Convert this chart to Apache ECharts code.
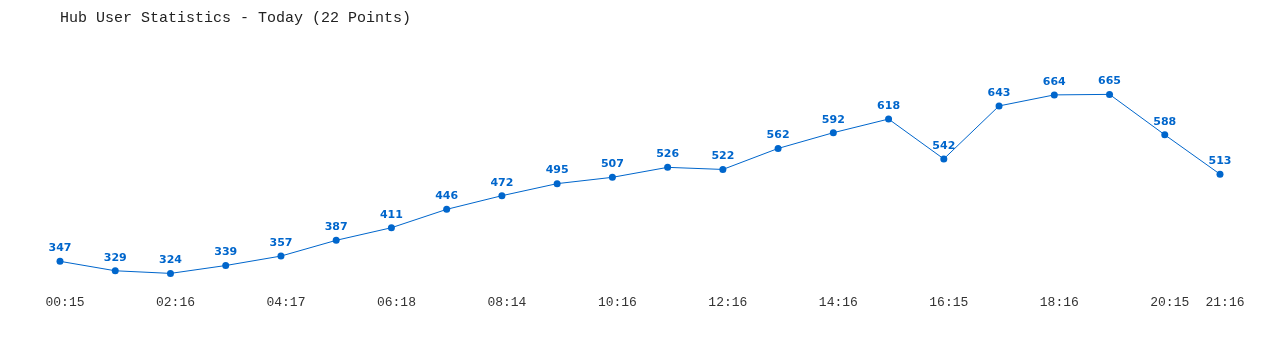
<!DOCTYPE html>
<html><head><meta charset="utf-8">
<script src="https://cdn.jsdelivr.net/npm/echarts@6/dist/echarts.min.js"></script>
<style>html,body{margin:0;padding:0;background:#fff}#c{width:1280px;height:350px}</style>
</head><body><div id="c"></div>
<script>
const categories = ["00:15","01:16","02:16","03:16","04:17","05:17","06:18","07:14","08:14","09:15","10:16","11:16","12:16","13:16","14:16","15:16","16:15","17:16","18:16","19:16","20:15","21:16"];
const users = [347,329,324,339,357,387,411,446,472,495,507,526,522,562,592,618,542,643,664,665,588,513];
const labelIndices = [0,2,4,6,8,10,12,14,16,18,20,21];

const chart = echarts.init(document.getElementById('c'), null, {renderer:'canvas'});
chart.setOption({
  animation:false,
  backgroundColor:'#ffffff',
  title:{
    text:'Hub User Statistics - Today (22 Points)',
    left:55, top:6,
    textStyle:{fontFamily:'Liberation Mono', fontSize:15, fontWeight:'normal', color:'#222'}
  },
  grid:{left:60, right:60, top:76, height:210},
  xAxis:{
    type:'category', data:categories, boundaryGap:false,
    axisLine:{show:false}, axisTick:{show:false}, splitLine:{show:false},
    axisLabel:{
      interval:(i)=>labelIndices.includes(i),
      fontFamily:'Liberation Mono', fontSize:13, color:'#333',
      margin:10, padding:[0,0,0,10]
    }
  },
  yAxis:{type:'value', min:300, max:700, show:false, splitLine:{show:false}},
  series:[{
    type:'line', data:users,
    symbol:'circle', symbolSize:7,
    itemStyle:{color:'#0066cc'},
    lineStyle:{color:'#0066cc', width:1},
    label:{show:true, position:'top', distance:4,
      fontFamily:'DejaVu Sans', fontWeight:'bold', fontSize:11, color:'#0066cc'}
  }]
});
</script></body></html>
